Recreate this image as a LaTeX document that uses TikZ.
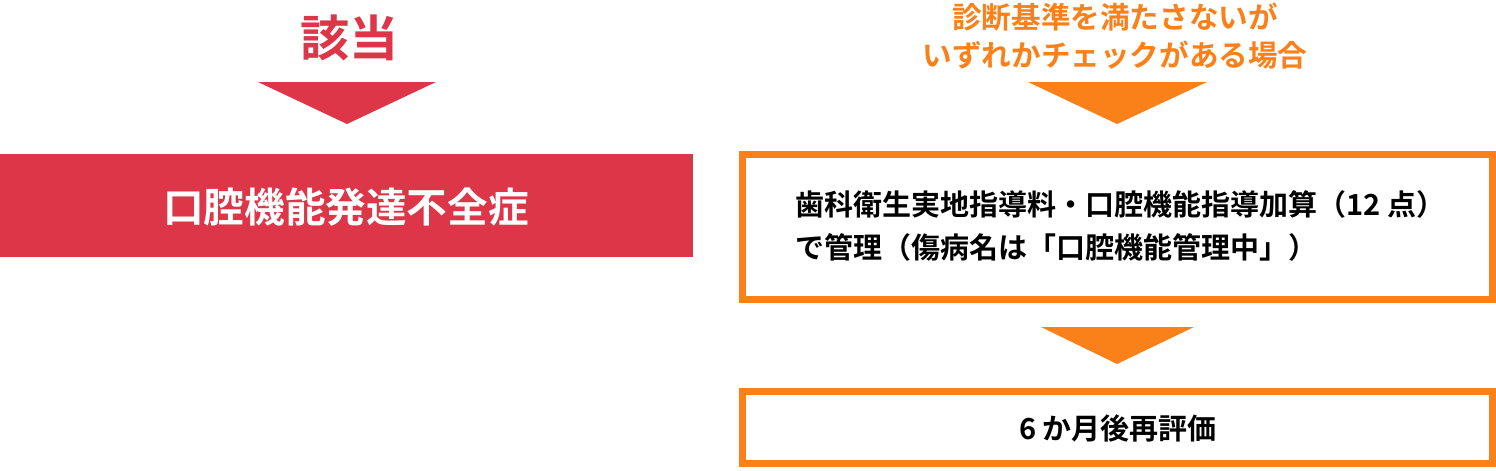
\documentclass[tikz,border=0pt]{standalone}
\usepackage{fontspec}
\setmainfont{Noto Sans CJK JP}[BoldFont={Noto Sans CJK JP Bold}]
\definecolor{myred}{RGB}{220,54,72}
\definecolor{myorange}{RGB}{250,128,25}
\tikzset{
  orangebox/.style={draw=myorange, line width=7pt, fill=white},
  headred/.style={text=myred, font=\bfseries\fontsize{49}{55}\selectfont, inner sep=0pt},
  headorange/.style={text=myorange, font=\bfseries\fontsize{29.6}{38}\selectfont, inner sep=0pt, align=center},
  bodytext/.style={text=black, font=\bfseries\fontsize{29}{43}\selectfont, inner sep=0pt},
}
\begin{document}
\begin{tikzpicture}[x=1pt,y=-1pt]
\useasboundingbox (0,0) rectangle (1496,471);
% left column
\node[headred] (h1) at (349,38) {該当};
\fill[myred] (258,82) -- (436,82) -- (347,124) -- cycle;
\fill[myred] (0,154) rectangle (693,257);
\node[text=white, font=\bfseries\fontsize{40.6}{48}\selectfont, inner sep=0pt] (d1) at (346,207) {口腔機能発達不全症};
% right column
\node[headorange] (h2) at (1115,36) {診断基準を満たさないが\\いずれかチェックがある場合};
\fill[myorange] (1028,82) -- (1207,82) -- (1117,124) -- cycle;
\draw[orangebox] (742.5,154.5) rectangle (1492.5,299.5);
\node[bodytext, anchor=west, align=left] (t1) at (795,226) {歯科衛生実地指導料・口腔機能指導加算（12 点）\\で管理（傷病名は「口腔機能管理中」）};
\fill[myorange] (1041,327) -- (1194,327) -- (1117,364) -- cycle;
\draw[orangebox] (742.5,391.5) rectangle (1492.5,463.5);
\node[bodytext] (t2) at (1118,428) {6 か月後再評価};
\end{tikzpicture}
\end{document}
